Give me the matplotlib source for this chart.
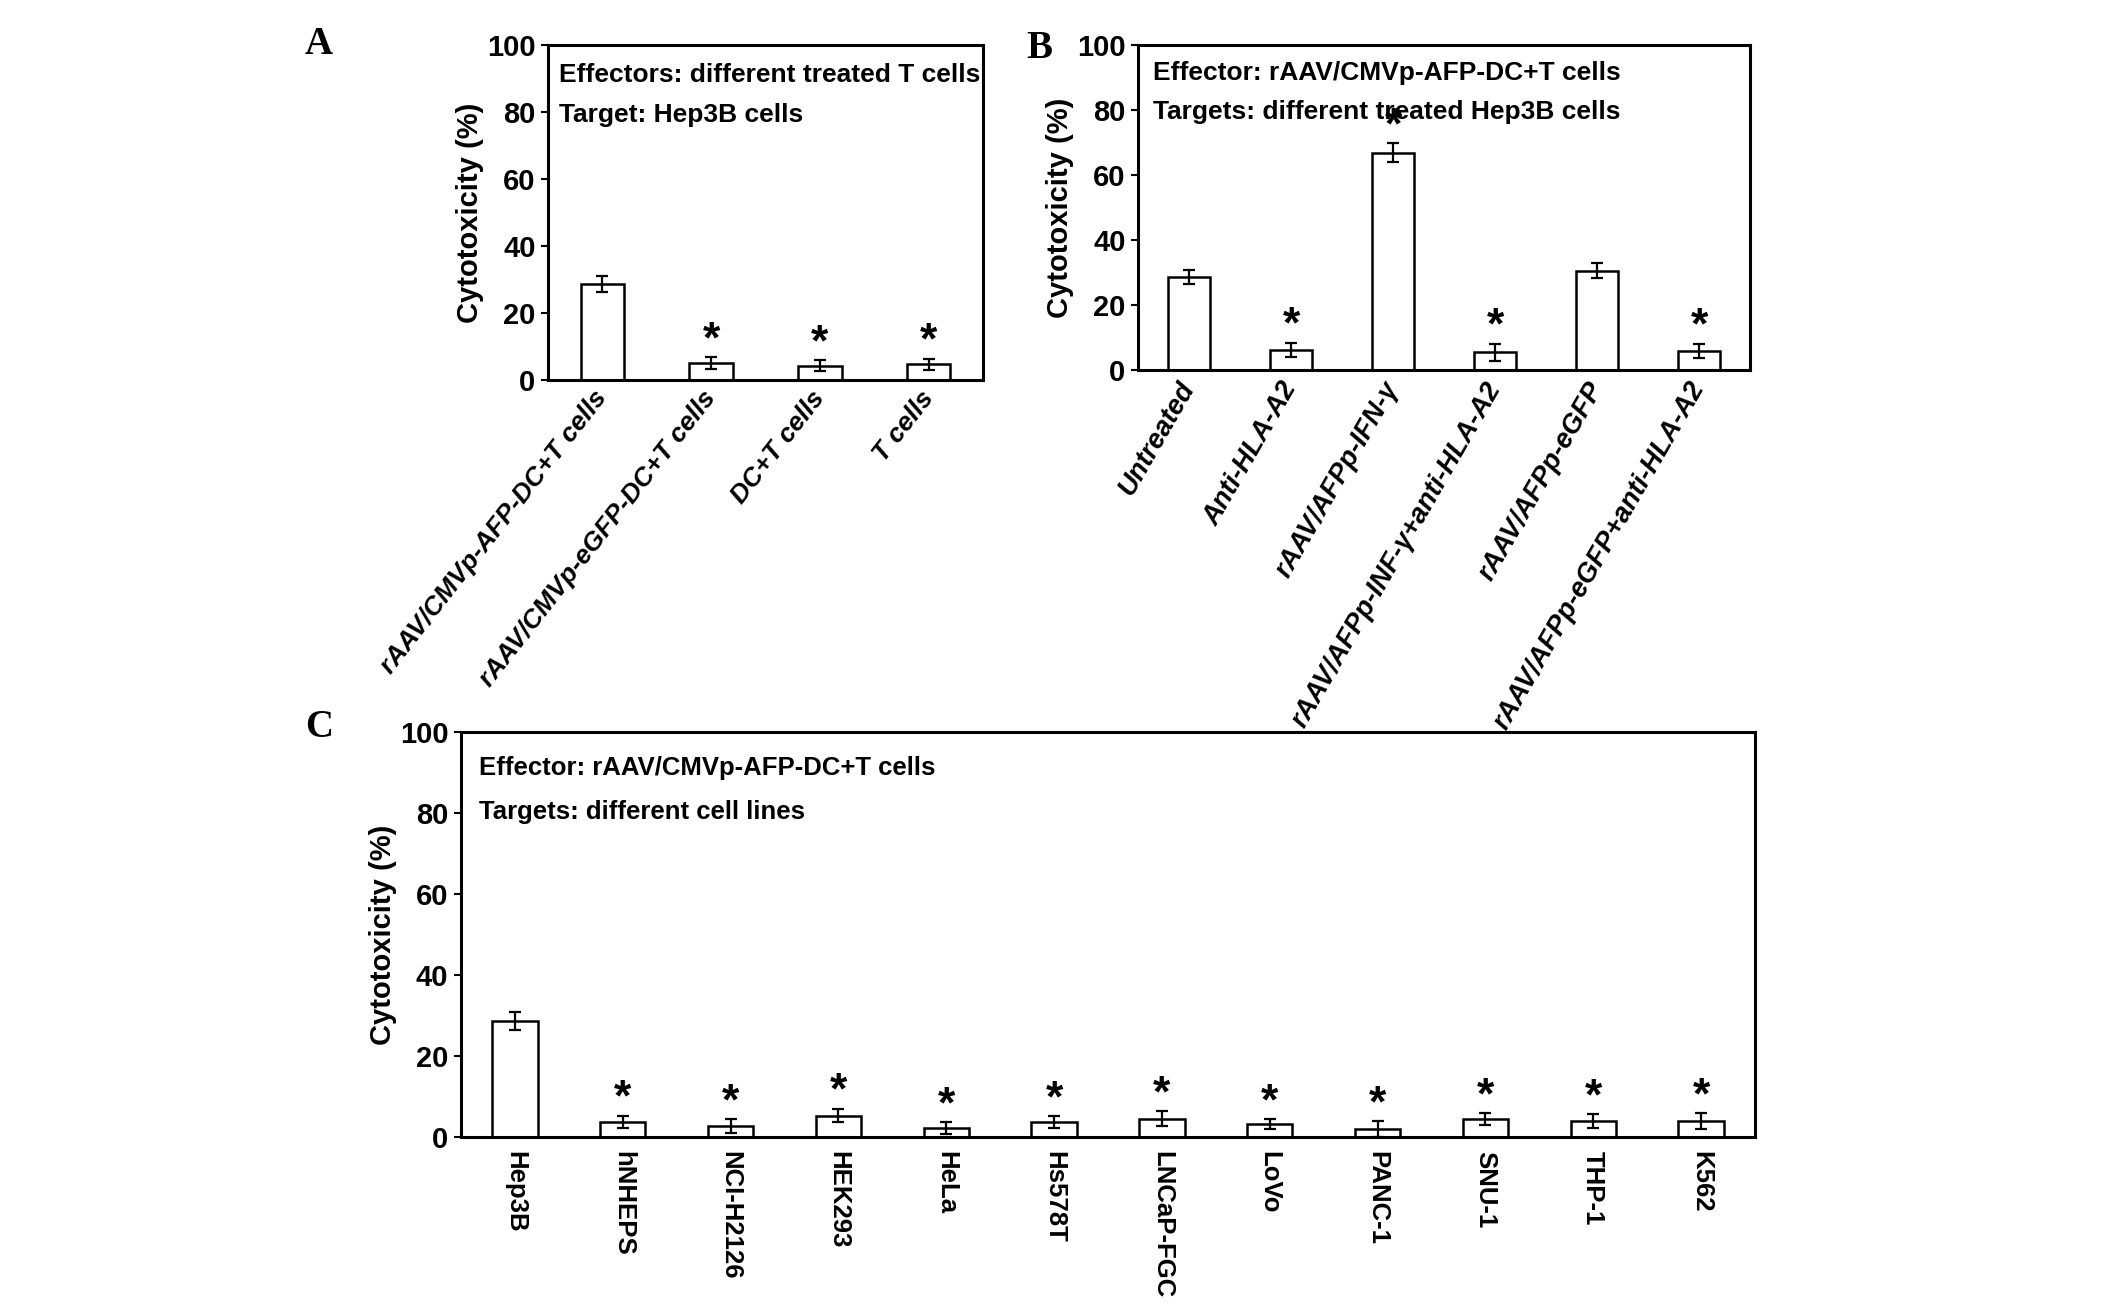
import matplotlib
matplotlib.use("Agg")
import matplotlib.pyplot as plt
import numpy as np

# ---- data ----
cats_a = ["rAAV/CMVp-AFP-DC+T cells", "rAAV/CMVp-eGFP-DC+T cells", "DC+T cells", "T cells"]
vals_a = [28.7, 5.1, 4.3, 4.7]
errs_a = [2.4, 1.7, 1.7, 1.7]
sig_a = [False, True, True, True]

cats_b = ["Untreated", "Anti-HLA-A2", "rAAV/AFPp-IFN-γ", "rAAV/AFPp-INF-γ+anti-HLA-A2",
          "rAAV/AFPp-eGFP", "rAAV/AFPp-eGFP+anti-HLA-A2"]
vals_b = [28.7, 6.2, 66.8, 5.5, 30.6, 5.9]
errs_b = [2.2, 2.2, 2.9, 2.6, 2.2, 2.2]
sig_b = [False, True, True, True, False, True]

cats_c = ["Hep3B", "hNHEPS", "NCI-H2126", "HEK293", "HeLa", "Hs578T", "LNCaP-FGC",
          "LoVo", "PANC-1", "SNU-1", "THP-1", "K562"]
vals_c = [28.6, 3.7, 2.7, 5.3, 2.2, 3.7, 4.5, 3.2, 2.0, 4.4, 3.9, 3.9]
errs_c = [2.2, 1.6, 1.7, 1.7, 1.4, 1.5, 1.8, 1.3, 1.9, 1.5, 1.7, 2.0]
sig_c = [False] + [True] * 11

text_a = ["Effectors: different treated T cells", "Target: Hep3B cells"]
text_b = ["Effector: rAAV/CMVp-AFP-DC+T cells", "Targets: different treated Hep3B cells"]
text_c = ["Effector: rAAV/CMVp-AFP-DC+T cells", "Targets: different cell lines"]
yticks = [0, 20, 40, 60, 80, 100]

plt.rcParams['font.family'] = ['Liberation Sans', 'DejaVu Sans']
plt.rcParams['font.weight'] = 'bold'

W, H = 2126, 1314
fig = plt.figure(figsize=(W / 100, H / 100), dpi=100)


def ax_rect(l, t, r, b):
    return [l / W, 1 - b / H, (r - l) / W, (b - t) / H]


def panel(ax, cats, vals, errs, sig, texts, width, text_x, text_y, text_dy, text_size,
          xl_rot, xl_style, xl_size):
    x = np.arange(len(cats))
    ax.bar(x, vals, width=width, color='white', edgecolor='black', linewidth=1.8, zorder=2)
    ax.errorbar(x, vals, yerr=errs, fmt='none', ecolor='black', elinewidth=1.6,
                capsize=4, capthick=1.6, zorder=3)
    for xi, v, e, s in zip(x, vals, errs, sig):
        if s:
            ax.annotate('*', (xi, v + e), xytext=(0, -3), textcoords='offset points',
                        ha='center', va='bottom', fontsize=32, fontweight='bold')
    ax.set_xlim(-0.5, len(cats) - 0.5)
    ax.set_ylim(0, 100)
    ax.set_yticks(yticks)
    ax.tick_params(axis='y', labelsize=21, width=1.5, length=5, direction='out', pad=4)
    for lab in ax.get_yticklabels():
        lab.set_fontweight('bold')
    ax.set_xticks(x)
    if xl_rot == -90:
        ax.set_xticklabels(cats, rotation=-90, ha='center', va='top', fontsize=xl_size,
                           fontweight='bold', fontstyle=xl_style)
    else:
        ax.set_xticklabels(cats, rotation=xl_rot, ha='right', va='center',
                           rotation_mode='anchor', fontsize=xl_size,
                           fontweight='bold', fontstyle=xl_style)
    ax.tick_params(axis='x', length=0, pad=10)
    for sp in ax.spines.values():
        sp.set_linewidth(2.2)
    ax.set_ylabel('Cytotoxicity (%)', fontsize=21, fontweight='bold', labelpad=2)
    for i, t in enumerate(texts):
        ax.text(text_x, text_y - i * text_dy, t, transform=ax.transAxes, fontsize=text_size,
                fontweight='bold', ha='left', va='center')


ax_a = fig.add_axes(ax_rect(548, 45, 983, 380))
panel(ax_a, cats_a, vals_a, errs_a, sig_a, text_a, 0.40, 0.025, 0.91, 0.12, 19,
      52, 'italic', 19)

ax_b = fig.add_axes(ax_rect(1138, 45, 1750, 370))
panel(ax_b, cats_b, vals_b, errs_b, sig_b, text_b, 0.41, 0.025, 0.915, 0.12, 19,
      60, 'italic', 19.5)

ax_c = fig.add_axes(ax_rect(461, 732, 1755, 1137))
panel(ax_c, cats_c, vals_c, errs_c, sig_c, text_c, 0.42, 0.014, 0.91, 0.108, 18.5,
      -90, 'normal', 18.5)

for lab, (px, py) in zip(['A', 'B', 'C'], [(319, 45), (1039, 48), (319, 727)]):
    fig.text(px / W, 1 - py / H, lab, fontsize=28, fontweight='bold',
             family=['Liberation Serif', 'DejaVu Serif'], ha='center', va='center')

fig.savefig('out.png', dpi=100, facecolor='white')
